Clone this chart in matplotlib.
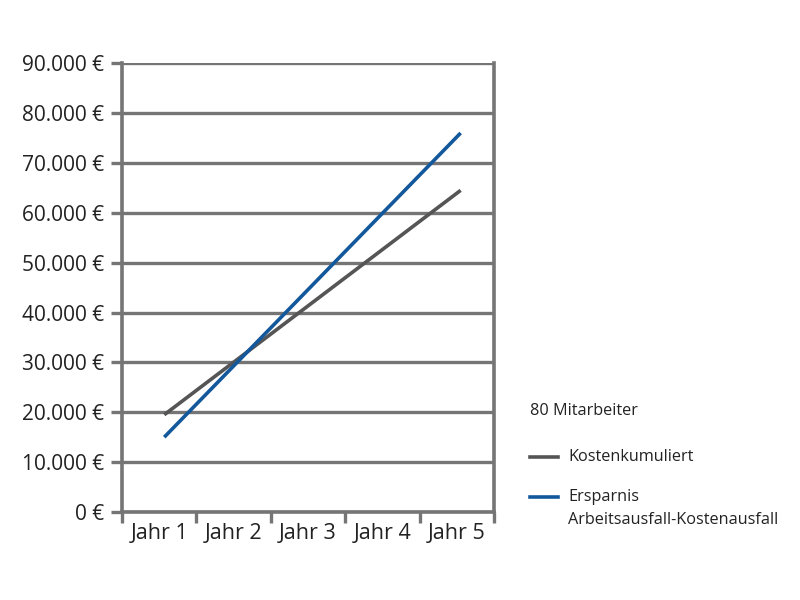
import matplotlib
matplotlib.use("Agg")
import matplotlib.pyplot as plt
import numpy as np
from matplotlib.lines import Line2D

plt.rcParams['font.family'] = ['Open Sans', 'DejaVu Sans']

categories = ["Jahr 1", "Jahr 2", "Jahr 3", "Jahr 4", "Jahr 5"]
kosten = [19500, 30750, 42000, 53250, 64500]
ersparnis = [15000, 30250, 45500, 60750, 76000]
yticks = [0, 10000, 20000, 30000, 40000, 50000, 60000, 70000, 80000, 90000]
ytick_labels = ["0 €", "10.000 €", "20.000 €", "30.000 €", "40.000 €", "50.000 €",
                "60.000 €", "70.000 €", "80.000 €", "90.000 €"]

grid_c = "#757575"
gray_c = "#555555"
blue_c = "#14589c"

fig = plt.figure(figsize=(8, 6), dpi=100)
ax = fig.add_axes([0.1525, 0.1467, 0.465, 0.748])

x = np.arange(len(categories))
ax.plot(x, kosten, color=gray_c, lw=2.6, solid_capstyle='butt', zorder=3)
ax.plot(x, ersparnis, color=blue_c, lw=2.6, solid_capstyle='butt', zorder=4)

x0, x1 = -0.57, 4.45
ax.set_xlim(x0, x1)
ax.set_ylim(0, 90000)

bounds = np.linspace(x0, x1, len(categories) + 1)
centers = (bounds[:-1] + bounds[1:]) / 2
ax.set_xticks(bounds)
ax.set_xticklabels([])
ax.set_xticks(centers, minor=True)
ax.set_xticklabels(categories, minor=True, fontsize=15.5, color="#222222")
ax.tick_params(axis='x', which='major', length=8, width=2.4, color=grid_c, direction='out')
ax.tick_params(axis='x', which='minor', length=0, pad=8)

ax.set_yticks(yticks)
ax.set_yticklabels(ytick_labels, fontsize=15, color="#222222")
ax.tick_params(axis='y', length=8, width=2.4, color=grid_c, pad=5)

ax.grid(axis='y', color=grid_c, lw=2.4, zorder=1)
ax.set_axisbelow(True)
for s in ['left', 'right', 'bottom']:
    ax.spines[s].set_color(grid_c)
    ax.spines[s].set_linewidth(2.6)
ax.spines['top'].set_visible(False)

fig.text(530 / 800, 1 - 411 / 600, "80 Mitarbeiter", fontsize=11.7, color="#222222", va='center')
fig.add_artist(Line2D([530 / 800, 558 / 800], [1 - 457 / 600] * 2, color=gray_c, lw=2.6))
fig.text(568 / 800, 1 - 457 / 600, "Kostenkumuliert", fontsize=11.7, color="#222222", va='center')
fig.add_artist(Line2D([530 / 800, 558 / 800], [1 - 497 / 600] * 2, color=blue_c, lw=2.6))
fig.text(568 / 800, 1 - 497 / 600, "Ersparnis", fontsize=11.7, color="#222222", va='center')
fig.text(568 / 800, 1 - 520 / 600, "Arbeitsausfall-Kostenausfall", fontsize=11.7, color="#222222", va='center')

fig.savefig("out.png", dpi=100)
